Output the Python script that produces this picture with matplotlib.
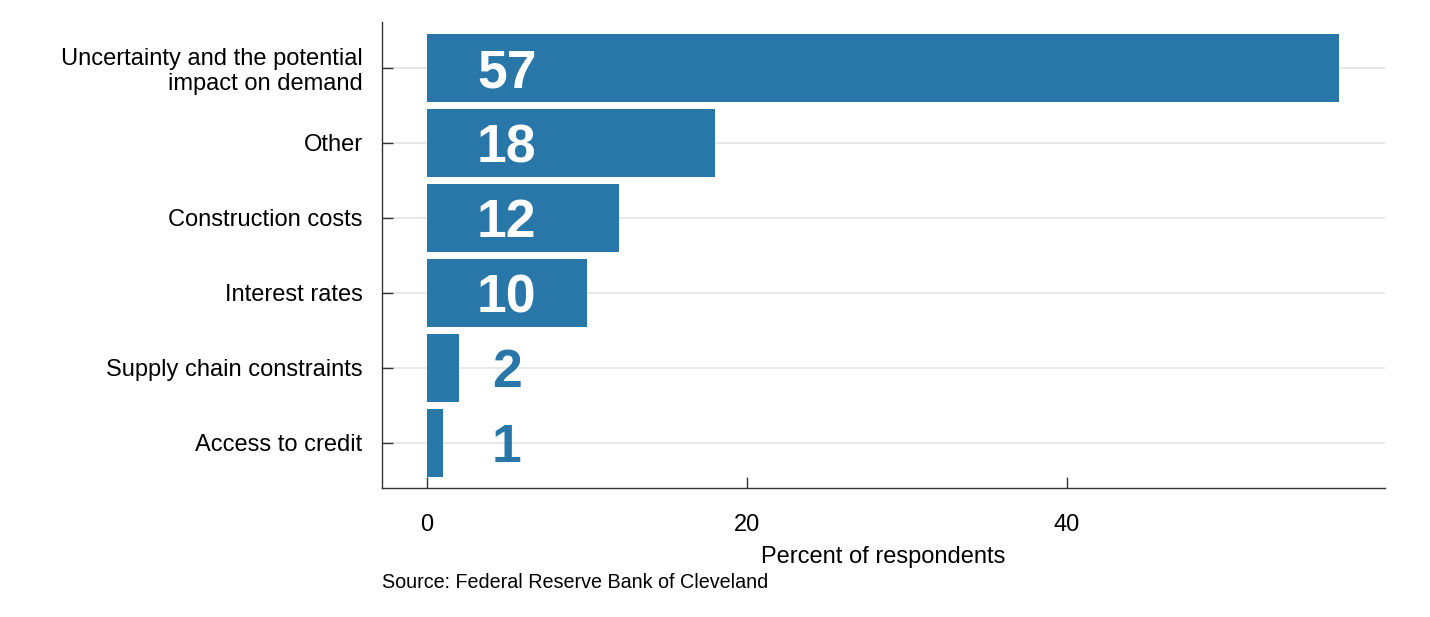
import matplotlib
matplotlib.use("Agg")
import matplotlib.pyplot as plt

categories = ["Uncertainty and the potential\nimpact on demand", "Other",
              "Construction costs", "Interest rates",
              "Supply chain constraints", "Access to credit"]
values = [57, 18, 12, 10, 2, 1]
xticks = [0, 20, 40]
xlabel = "Percent of respondents"
source = "Source: Federal Reserve Bank of Cleveland"

plt.rcParams['font.family'] = ['Liberation Sans', 'DejaVu Sans']
bar_color = '#2976a8'

fig = plt.figure(figsize=(14.3, 6.17), dpi=100)
ax = fig.add_axes([382/1430, 1-488/617, (1385-382)/1430, (488-22)/617])

pos = list(range(len(categories)))
ax.barh(pos, values, height=0.9, color=bar_color, zorder=2)
for p, v in zip(pos, values):
    col = 'white' if v >= 10 else bar_color
    ax.annotate(str(v), xy=(5, p), xytext=(0, -13.8), textcoords='offset points',
                ha='center', va='baseline', fontsize=38.5, fontweight='bold',
                color=col, zorder=3)

ax.set_yticks(pos)
ax.set_yticklabels(categories, fontsize=17, linespacing=1.12)
ax.set_xticks(xticks)
ax.set_xticklabels([str(t) for t in xticks], fontsize=17)
ax.set_xlim(-2.8, 59.87)
ax.set_ylim(5.6, -0.613)

ax.yaxis.grid(True, color='#e6e6e6', linewidth=1.3, zorder=0)
ax.xaxis.grid(False)
ax.set_axisbelow(True)

for s in ['top', 'right']:
    ax.spines[s].set_visible(False)
for s in ['left', 'bottom']:
    ax.spines[s].set_color('#333333')
    ax.spines[s].set_linewidth(1.0)

ax.tick_params(axis='x', direction='in', length=8, width=1, color='#333333', pad=19)
ax.tick_params(axis='y', direction='in', length=8, width=1, color='#333333', pad=14)

ax.set_xlabel(xlabel, fontsize=17, labelpad=7)
fig.text(382/1430, 1-588/617, source, fontsize=14.2, ha='left', va='baseline')

fig.savefig("out.png", dpi=100)
